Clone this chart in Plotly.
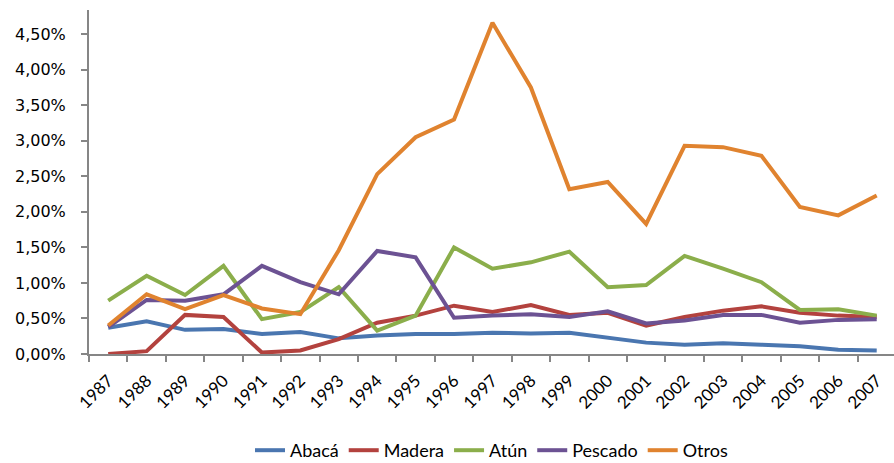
import plotly.graph_objects as go

years = [str(y) for y in range(1987, 2008)]

# participación (%) por año
abaca = [0.37, 0.46, 0.34, 0.35, 0.28, 0.31, 0.22, 0.26, 0.28, 0.28, 0.30, 0.29, 0.30,
         0.23, 0.16, 0.13, 0.15, 0.13, 0.11, 0.06, 0.05]
madera = [0.00, 0.04, 0.55, 0.52, 0.02, 0.05, 0.21, 0.44, 0.54, 0.68, 0.59, 0.69, 0.55,
          0.58, 0.40, 0.52, 0.61, 0.67, 0.58, 0.54, 0.52]
atun = [0.75, 1.10, 0.83, 1.24, 0.49, 0.59, 0.94, 0.33, 0.54, 1.50, 1.20, 1.29, 1.44,
        0.94, 0.97, 1.38, 1.20, 1.01, 0.62, 0.63, 0.54]
pescado = [0.38, 0.76, 0.75, 0.84, 1.24, 1.01, 0.84, 1.45, 1.36, 0.51, 0.54, 0.56, 0.52,
           0.60, 0.43, 0.47, 0.55, 0.55, 0.44, 0.48, 0.49]
otros = [0.40, 0.84, 0.63, 0.83, 0.64, 0.56, 1.46, 2.53, 3.05, 3.30, 4.66, 3.75, 2.32,
         2.42, 1.83, 2.93, 2.91, 2.79, 2.07, 1.95, 2.23]

series = [
    ('Abacá', abaca, '#4a76b0'),
    ('Madera', madera, '#b3423e'),
    ('Atún', atun, '#8bae4b'),
    ('Pescado', pescado, '#6c5293'),
    ('Otros', otros, '#e0832f'),
]

fig = go.Figure()
for name, vals, color in series:
    fig.add_trace(go.Scatter(x=years, y=vals, mode='lines', name=name,
                             line=dict(color=color, width=4)))

font = 'Lato, Carlito, Liberation Sans, sans-serif'
fig.update_layout(
    width=894, height=463,
    margin=dict(l=89, r=0, t=10, b=109),
    plot_bgcolor='white', paper_bgcolor='white',
    separators=',.',
    font=dict(family=font, size=16, color='#000000'),
    showlegend=True,
    legend=dict(orientation='h', x=0.5, xanchor='center', yref='container',
                y=0.027, yanchor='middle', font=dict(size=18), itemwidth=30),
    xaxis=dict(type='category', range=[-0.5, 20.45], showline=True, linecolor='#868686',
               linewidth=2, ticks='outside', tickson='boundaries', ticklen=6,
               tickcolor='#868686', tickwidth=2, tickangle=-45, showgrid=False,
               ticklabelstandoff=8, automargin=False, tickfont=dict(size=17)),
    yaxis=dict(range=[0, 4.84], tick0=0, dtick=0.5, tickformat='.2f', ticksuffix='%',
               showline=True, linecolor='#868686', linewidth=2, ticks='outside',
               ticklen=6, tickcolor='#868686', tickwidth=2, showgrid=False,
               zeroline=False, ticklabelstandoff=12, automargin=False,
               tickfont=dict(family='DejaVu Sans, sans-serif', size=16)),
)

# the page body has a default 8px margin; drop it so the figure sits at 0,0
fig.write_html('out.html', config={'displayModeBar': False},
               post_script="document.body.style.margin='0px';")
